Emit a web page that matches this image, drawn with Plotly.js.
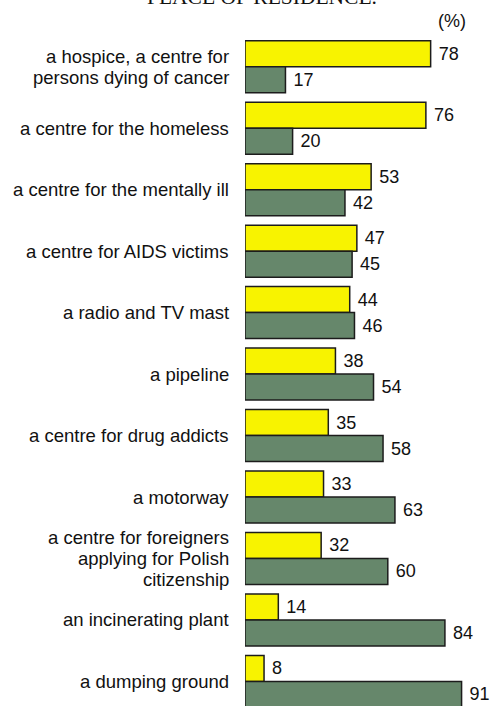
<!DOCTYPE html>
<html>
<head>
<meta charset="utf-8">
<script src="https://cdn.plot.ly/plotly-3.0.1.min.js"></script>
<style>
  html, body { margin: 0; padding: 0; background: #ffffff; }
  #chart { width: 493px; height: 706px; }
</style>
</head>
<body>
<div id="chart"></div>
<script>
// Categories (each line of a label separated by <br>)
const categories = [
  "a hospice, a centre for<br>persons dying of cancer",
  "a centre for the homeless",
  "a centre for the mentally ill",
  "a centre for AIDS victims",
  "a radio and TV mast",
  "a pipeline",
  "a centre for drug addicts",
  "a motorway",
  "a centre for foreigners<br>applying for Polish<br>citizenship",
  "an incinerating plant",
  "a dumping ground"
];
// Yellow series (upper bar of each pair)
const yellowValues = [78, 76, 53, 47, 44, 38, 35, 33, 32, 14, 8];
// Green series (lower bar of each pair)
const greenValues = [17, 20, 42, 45, 46, 54, 58, 63, 60, 84, 91];

const titleText = "PLACE OF RESIDENCE.";
const unitText = "(%)";

const YELLOW = "#f8f300";
const GREEN = "#66876b";
const EDGE = "#1c1c1c";
const FONT = "Liberation Sans, Arial, sans-serif";

function barTrace(vals, color) {
  return {
    type: "bar",
    orientation: "h",
    x: vals,
    y: categories,
    marker: { color: color, line: { color: EDGE, width: 1.5 } },
    text: vals.map(v => "\u00a0" + v),
    textposition: "outside",
    textfont: { family: FONT, size: 18, color: "#111111" },
    cliponaxis: false,
    constraintext: "none",
    hoverinfo: "skip",
    showlegend: false
  };
}

const annotations = [];
categories.forEach(cat => {
  const lines = cat.split("<br>");
  const n = lines.length;
  lines.forEach((ln, i) => {
    annotations.push({
      xref: "paper", yref: "y",
      x: 0, y: cat,
      xanchor: "right", yanchor: "middle",
      xshift: -15,
      yshift: ((n - 1) / 2 - i) * 20.8,
      text: ln,
      showarrow: false,
      borderpad: 0,
      font: { family: FONT, size: 18.5, color: "#111111" }
    });
  });
});

annotations.push({
  xref: "paper", yref: "paper",
  x: 0.0713, y: 1.038,
  xanchor: "center", yanchor: "bottom",
  text: titleText,
  showarrow: false,
  font: { family: "Liberation Serif, Times New Roman, serif", size: 21.5, color: "#111111" }
});
annotations.push({
  xref: "paper", yref: "paper",
  x: 0.935, y: 1.022,
  xanchor: "right", yanchor: "middle",
  text: unitText,
  showarrow: false,
  font: { family: FONT, size: 18, color: "#111111" }
});

const layout = {
  width: 493,
  height: 706,
  margin: { l: 245, r: 9.5, t: 36, b: 0, pad: 0 },
  paper_bgcolor: "#ffffff",
  plot_bgcolor: "#ffffff",
  barmode: "group",
  bargap: 0.154,
  bargroupgap: 0,
  xaxis: {
    range: [0, 100],
    visible: false,
    showgrid: false,
    zeroline: false,
    fixedrange: true
  },
  yaxis: {
    type: "category",
    range: [10.4, -0.5],
    showticklabels: false,
    showgrid: false,
    zeroline: false,
    showline: false,
    ticks: "",
    fixedrange: true
  },
  annotations: annotations,
  showlegend: false
};

Plotly.newPlot("chart", [barTrace(yellowValues, YELLOW), barTrace(greenValues, GREEN)], layout, {
  displayModeBar: false, staticPlot: true
});
</script>
</body>
</html>
